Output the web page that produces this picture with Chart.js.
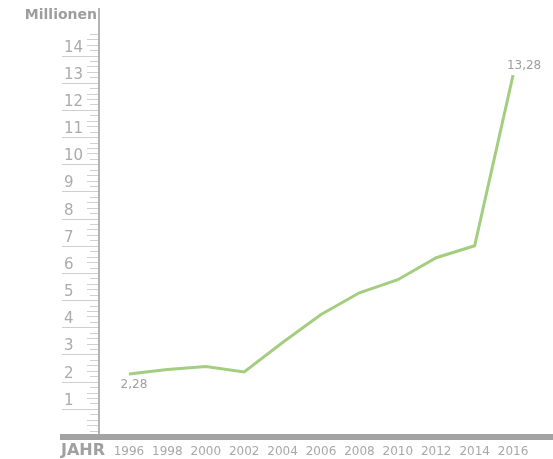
<!DOCTYPE html>
<html>
<head>
<meta charset="utf-8">
<script src="https://cdn.jsdelivr.net/npm/chart.js@4/dist/chart.umd.min.js"></script>
<style>
  html, body { margin: 0; padding: 0; background: #fff; }
  #wrap { width: 553px; height: 459px; }
</style>
</head>
<body>
<div id="wrap"><canvas id="chart"></canvas></div>
<script>
// Daten
const years = [1996, 1998, 2000, 2002, 2004, 2006, 2008, 2010, 2012, 2014, 2016];
const values = [2.28, 2.45, 2.56, 2.36, 3.44, 4.47, 5.27, 5.75, 6.56, 7.0, 13.28];
const yLabels = [1, 2, 3, 4, 5, 6, 7, 8, 9, 10, 11, 12, 13, 14];
const pointLabels = ["2,28", "", "", "", "", "", "", "", "", "", "13,28"];

const FONT = "Verdana, 'DejaVu Sans', sans-serif";

// Lineal-Achse, Jahreszahlen und Beschriftungen
const rulerPlugin = {
  id: "ruler",
  beforeDatasetsDraw(chart) {
    const ctx = chart.ctx;
    const y = chart.scales.y;
    const x = chart.scales.x;
    const axisX = chart.chartArea.left;
    ctx.save();

    // kleine Striche alle 0,2
    ctx.strokeStyle = "#d0d0d0";
    ctx.lineWidth = 1;
    for (let i = 1; i <= 74; i++) {
      const v = i / 5;
      if (i % 5 === 0) continue;
      const py = Math.round(y.getPixelForValue(v)) + 0.5;
      ctx.beginPath();
      ctx.moveTo(axisX - (i % 5 === 2 || i % 5 === 3 ? 12 : 9), py);
      ctx.lineTo(axisX, py);
      ctx.stroke();
    }

    // lange Striche mit Zahlen
    ctx.font = "15px " + FONT;
    ctx.fillStyle = "#ababab";
    ctx.textAlign = "left";
    ctx.textBaseline = "bottom";
    yLabels.forEach(v => {
      const py = Math.round(y.getPixelForValue(v)) + 0.5;
      ctx.strokeStyle = "#cfcfcf";
      ctx.beginPath();
      ctx.moveTo(62, py);
      ctx.lineTo(axisX, py);
      ctx.stroke();
      ctx.fillText(String(v), 64, py - 1);
    });

    // senkrechte Achse
    ctx.strokeStyle = "#b4b4b4";
    ctx.lineWidth = 2;
    ctx.beginPath();
    ctx.moveTo(axisX, chart.chartArea.top);
    ctx.lineTo(axisX, chart.chartArea.bottom);
    ctx.stroke();

    // waagerechter Balken
    ctx.fillStyle = "#a3a3a3";
    ctx.fillRect(60, chart.chartArea.bottom - 2, 493, 6);

    // Titel
    ctx.fillStyle = "#9d9d9d";
    ctx.font = "bold 14px " + FONT;
    ctx.textAlign = "right";
    ctx.textBaseline = "middle";
    ctx.fillText("Millionen", 97, 15);

    ctx.font = "bold 16px " + FONT;
    ctx.textAlign = "left";
    ctx.fillStyle = "#a0a0a0";
    ctx.fillText("JAHR", 61, 451);

    // Jahreszahlen
    ctx.font = "12px " + FONT;
    ctx.fillStyle = "#a8a8a8";
    ctx.textAlign = "center";
    years.forEach(yr => {
      ctx.fillText(String(yr), x.getPixelForValue(yr), 452);
    });
    ctx.restore();
  },
  afterDatasetsDraw(chart) {
    const ctx = chart.ctx;
    const x = chart.scales.x;
    const y = chart.scales.y;
    ctx.save();
    ctx.font = "12px " + FONT;
    ctx.fillStyle = "#9f9f9f";
    ctx.textBaseline = "middle";
    ctx.textAlign = "center";
    pointLabels.forEach((txt, i) => {
      if (!txt) return;
      const px = x.getPixelForValue(years[i]);
      const py = y.getPixelForValue(values[i]);
      if (i === 0) {
        ctx.fillText(txt, px + 5, py + 11);
      } else {
        ctx.fillText(txt, px + 11, py - 9);
      }
    });
    ctx.restore();
  }
};

new Chart(document.getElementById("chart"), {
  type: "line",
  data: {
    datasets: [{
      data: years.map((yr, i) => ({ x: yr, y: values[i] })),
      borderColor: "#a4ce7f",
      borderWidth: 3,
      pointRadius: 0,
      tension: 0,
      fill: false,
    }],
  },
  options: {
    responsive: true,
    maintainAspectRatio: false,
    animation: false,
    layout: { padding: { left: 99, right: 0, top: 8, bottom: 23 } },
    plugins: {
      legend: { display: false },
      tooltip: { enabled: false },
    },
    scales: {
      x: { type: "linear", min: 1994.44, max: 2018.08, display: false },
      y: { min: 0, max: 15.75, display: false },
    },
  },
  plugins: [rulerPlugin],
});
</script>
</body>
</html>
